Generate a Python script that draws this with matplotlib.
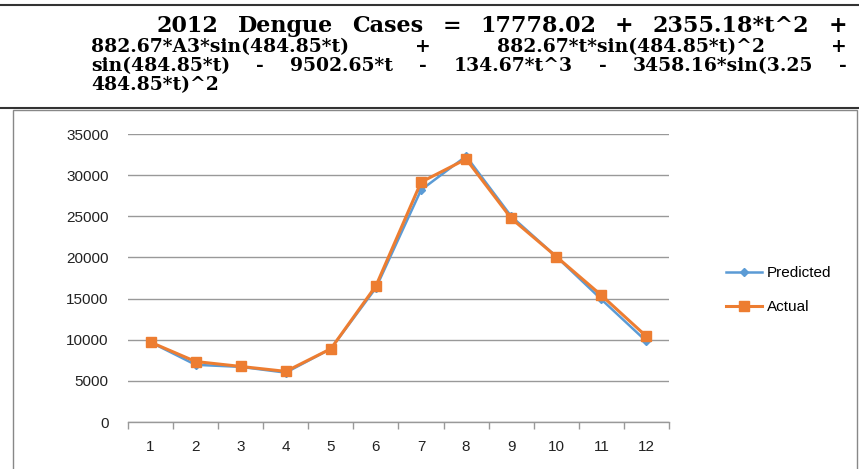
import matplotlib.pyplot as plt
from matplotlib.patches import Rectangle
from matplotlib.lines import Line2D

# data
months = list(range(1, 13))
predicted = [9700, 6950, 6700, 6000, 8900, 16300, 28200, 32300, 25000, 20100, 14900, 9800]
actual = [9700, 7350, 6750, 6150, 8900, 16550, 29150, 31950, 24750, 20100, 15400, 10400]
yticks = [0, 5000, 10000, 15000, 20000, 25000, 30000, 35000]

# equation text above the chart, one list of words per line
eq_lines = [
    ["2012", "Dengue", "Cases", "=", "17778.02", "+", "2355.18*t^2", "+"],
    ["882.67*A3*sin(484.85*t)", "+", "882.67*t*sin(484.85*t)^2", "+"],
    ["sin(484.85*t)", "-", "9502.65*t", "-", "134.67*t^3", "-", "3458.16*sin(3.25", "-"],
    ["484.85*t)^2"],
]

W, H = 859, 469
fig = plt.figure(figsize=(W / 100, H / 100), dpi=100)
fig.patch.set_facecolor('white')

# rules above and below the equation
fig.add_artist(Line2D([0, 1], [1 - 5 / H, 1 - 5 / H], color='#333333', lw=1.5))
fig.add_artist(Line2D([0, 1], [1 - 108 / H, 1 - 108 / H], color='#333333', lw=1.5))

# chart frame
fig.add_artist(Rectangle((13 / W, -0.05), (857 - 13) / W, 1 - 110 / H + 0.05,
                         transform=fig.transFigure, fill=False,
                         edgecolor='#888888', lw=1.0))

# justified equation
renderer = fig.canvas.get_renderer()
line_cfg = [(157, 847, 26, 16), (91, 847, 47, 13.5), (91, 847, 66, 13.5), (91, None, 85, 13.5)]
for words, (x0, x1, yc, fs) in zip(eq_lines, line_cfg):
    texts = [fig.text(0, 1 - yc / H, w, fontsize=fs, family='DejaVu Serif',
                      weight='bold', ha='left', va='center') for w in words]
    widths = [t.get_window_extent(renderer).width for t in texts]
    if x1 is None or len(words) == 1:
        gap = 0
    else:
        gap = (x1 - x0 - sum(widths)) / (len(words) - 1)
    x = x0
    for t, w in zip(texts, widths):
        t.set_x(x / W)
        x += w + gap

# chart
ax = fig.add_axes([128 / W, 1 - 422 / H, (669 - 128) / W, (422 - 134) / H])
ax.plot(months, predicted, color='#5B9BD5', lw=1.8, marker='D', ms=4.5,
        label='Predicted', zorder=3)
ax.plot(months, actual, color='#ED7D31', lw=2.2, marker='s', ms=6.5,
        label='Actual', zorder=4)

ax.set_xlim(0.5, 12.5)
ax.set_ylim(0, 35000)
ax.set_yticks(yticks)
ax.set_yticklabels([str(v) for v in yticks], fontsize=11, family='Liberation Sans',
                   color='#222222')
ax.set_xticks(months)
ax.set_xticklabels([str(m) for m in months], fontsize=11, family='Liberation Sans',
                   color='#222222')
ax.set_xticks([m + 0.5 for m in range(0, 13)], minor=True)
ax.tick_params(axis='y', length=0, pad=14)
ax.tick_params(axis='x', which='major', length=0, pad=13)
ax.tick_params(axis='x', which='minor', length=5, color='#999999', width=1)

ax.grid(axis='y', color='#999999', lw=1.0, zorder=0)
for s in ['left', 'right', 'top']:
    ax.spines[s].set_visible(False)
ax.spines['bottom'].set_color('#999999')
ax.spines['bottom'].set_linewidth(1.0)

leg = ax.legend(loc='center left', bbox_to_anchor=(712 / W, 1 - 290 / H),
                bbox_transform=fig.transFigure, frameon=False,
                prop={'family': 'Liberation Sans', 'size': 11},
                handlelength=2.4, labelspacing=1.3, handletextpad=0.3)

fig.savefig('out.png', dpi=100)
